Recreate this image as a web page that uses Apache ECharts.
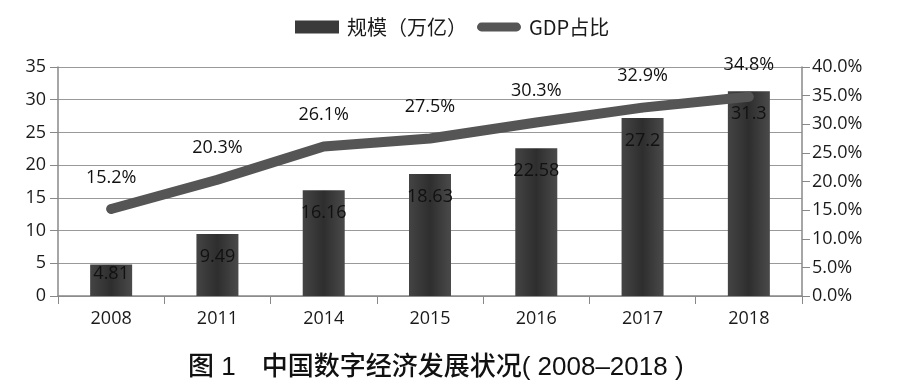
<!DOCTYPE html>
<html><head><meta charset="utf-8">
<script src="https://cdn.jsdelivr.net/npm/echarts@6/dist/echarts.min.js"></script>
<style>html,body{margin:0;padding:0;background:#fff}#c{width:900px;height:388px}</style>
</head><body><div id="c"></div>
<script>
const categories = ['2008','2011','2014','2015','2016','2017','2018'];
const scaleValues = [4.81, 9.49, 16.16, 18.63, 22.58, 27.2, 31.3];
const gdpShare = [15.2, 20.3, 26.1, 27.5, 30.3, 32.9, 34.8];
const leftTicks = [0,5,10,15,20,25,30,35];
const rightTicks = [0,5,10,15,20,25,30,35,40];

const chart = echarts.init(document.getElementById('c'));
const txt = '#1a1a1a';
const font = '"Open Sans", "Noto Sans CJK SC", sans-serif';
chart.setOption({
  animation:false,
  textStyle:{fontFamily:font},
  title:{text:'图 1　中国数字经济发展状况( 2008–2018 )', left:183, top:350,
    textStyle:{fontSize:26, fontWeight:500, color:'#111', fontFamily:'"Liberation Sans", "Noto Sans CJK SC", sans-serif'}},
  legend:{top:12, left:290, itemGap:10, textStyle:{fontSize:20, color:txt, fontFamily:'"Noto Sans CJK SC", sans-serif', padding:[0,0,0,3]},
    data:[
      {name:'规模（万亿）', icon:'rect', itemStyle:{color:'#3a3a3a'}},
      {name:'GDP占比', icon:'path://M5,0 L45,0 A5,5 0 0 1 45,10 L5,10 A5,5 0 0 1 5,0 Z', itemStyle:{color:'#555'}}
    ], itemWidth:44, itemHeight:13},
  grid:{left:58, right:98, top:67, bottom:92},
  xAxis:{type:'category', data:categories,
    axisLine:{lineStyle:{color:'#888', width:1.5}},
    axisTick:{show:true, alignWithLabel:false, length:8, lineStyle:{color:'#888'}},
    axisLabel:{fontSize:18, color:txt, margin:14}},
  yAxis:[
    {type:'value', min:leftTicks[0], max:leftTicks[leftTicks.length-1], interval:5,
     axisLine:{show:true, lineStyle:{color:'#888', width:1.5}},
     axisTick:{show:true, length:8, lineStyle:{color:'#888'}},
     splitLine:{lineStyle:{color:'#999', width:1.2}},
     axisLabel:{fontSize:18, color:txt, margin:12}},
    {type:'value', min:rightTicks[0], max:rightTicks[rightTicks.length-1], interval:5,
     axisLine:{show:true, lineStyle:{color:'#888', width:1.5}},
     axisTick:{show:true, length:8, lineStyle:{color:'#888'}},
     splitLine:{show:false},
     axisLabel:{fontSize:18, color:txt, margin:10, formatter:v=>v.toFixed(1)+'%'}}
  ],
  series:[
    {name:'规模（万亿）', type:'bar', barWidth:42,
     data:scaleValues.map((v,i)=> i===0 ? {value:v, label:{distance:0}} : v),
     itemStyle:{color:new echarts.graphic.LinearGradient(0,0,1,0,[
       {offset:0,color:'#444'},{offset:0.5,color:'#2e2e2e'},{offset:1,color:'#4a4a4a'}])},
     label:{show:true, position:'insideTop', distance:14, fontSize:18, color:'#111'}},
    {name:'GDP占比', type:'line', yAxisIndex:1, data:gdpShare, symbol:'circle', symbolSize:9, showSymbol:true,
     lineStyle:{color:'#555', width:10, cap:'round', join:'round'},
     itemStyle:{color:'#555', borderWidth:0},
     label:{show:true, position:'top', distance:18, fontSize:18, color:'#111', formatter:p=>p.value.toFixed(1)+'%'}}
  ]
});
</script></body></html>
